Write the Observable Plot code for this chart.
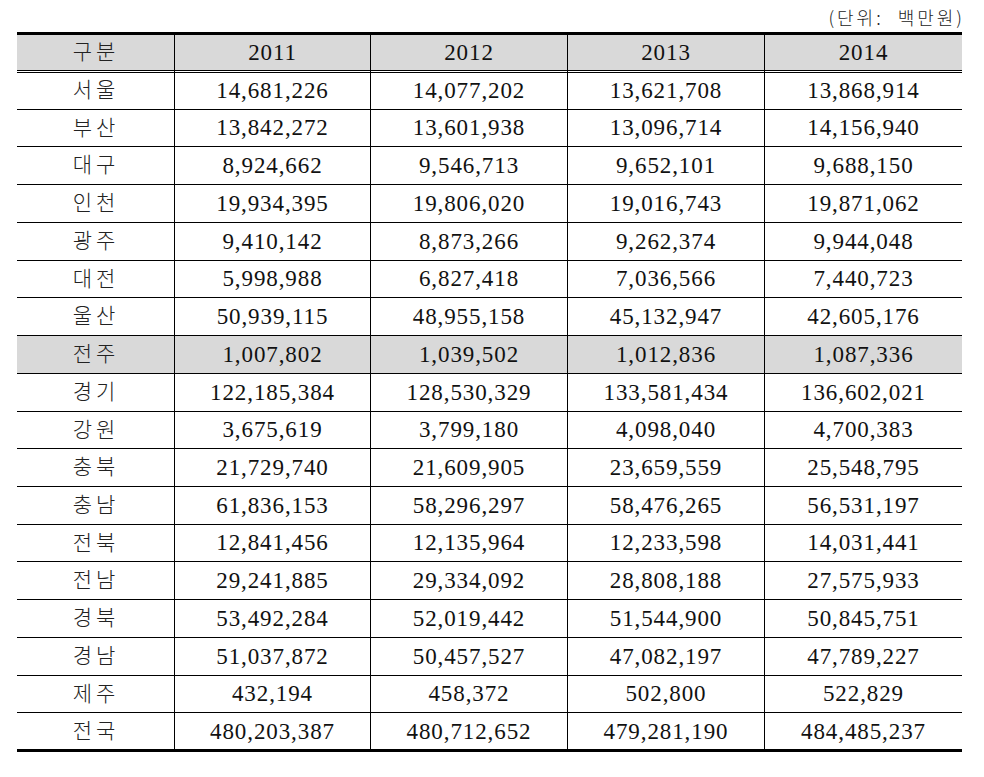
<!DOCTYPE html>
<html><head><meta charset="utf-8">
<script src="https://cdn.jsdelivr.net/npm/d3@7"></script>
<script src="https://cdn.jsdelivr.net/npm/@observablehq/plot@0.6"></script>
<style>
body{margin:0;background:#fff;}
#unit{height:28px;width:984px;box-sizing:border-box;padding-right:19px;text-align:right;font-family:"Noto Sans CJK KR";font-size:18px;font-weight:300;letter-spacing:3px;line-height:34px;color:#222;white-space:pre;overflow:visible;}
#chart svg{display:block;}
</style></head><body>
<div id="unit">(단위:  백만원)</div>
<div id="chart"></div>
<script>
const headerLabel = "구분";
const years = ["2011", "2012", "2013", "2014"];
const regions = ["서울","부산","대구","인천","광주","대전","울산","전주","경기","강원","충북","충남","전북","전남","경북","경남","제주","전국"];
const v2011 = [14681226,13842272,8924662,19934395,9410142,5998988,50939115,1007802,122185384,3675619,21729740,61836153,12841456,29241885,53492284,51037872,432194,480203387];
const v2012 = [14077202,13601938,9546713,19806020,8873266,6827418,48955158,1039502,128530329,3799180,21609905,58296297,12135964,29334092,52019442,50457527,458372,480712652];
const v2013 = [13621708,13096714,9652101,19016743,9262374,7036566,45132947,1012836,133581434,4098040,23659559,58476265,12233598,28808188,51544900,47082197,502800,479281190];
const v2014 = [13868914,14156940,9688150,19871062,9944048,7440723,42605176,1087336,136602021,4700383,25548795,56531197,14031441,27575933,50845751,47789227,522829,484485237];
const highlighted = "전주";

// layout (pixels within the SVG)
const colEdges = [17, 174, 370, 567, 764, 962];
const tableTop = 5, headerBottom = 43, tableBottom = 722;

const series = [v2011, v2012, v2013, v2014];
const fmt = d3.format(",");
const nRows = regions.length + 1;
const rowH = (tableBottom - headerBottom) / regions.length;
const rowTop = r => r === 0 ? tableTop : Math.round(headerBottom + (r - 1) * rowH);
const rowBot = r => r === 0 ? headerBottom : Math.round(headerBottom + r * rowH);
const rowMid = r => (rowTop(r) + rowBot(r)) / 2;
const colMid = c => (colEdges[c] + colEdges[c + 1]) / 2;

const headerCells = [headerLabel, ...years].map((t, i) => ({col: i, row: 0, text: t}));
const regionCells = regions.map((t, i) => ({col: 0, row: i + 1, text: t}));
const valueCells = series.flatMap((vals, j) => vals.map((v, i) => ({col: j + 1, row: i + 1, text: fmt(v)})));
const shadedRows = [0, regions.indexOf(highlighted) + 1];
const L = colEdges[0], R = colEdges[5];

const SERIF = "'Liberation Serif', 'DejaVu Serif', serif";
const KOR = "'Noto Sans CJK KR', sans-serif";

const chart = Plot.plot({
  width: 984,
  height: 749,
  margin: 0,
  style: {fontFamily: SERIF},
  x: {type: "linear", domain: [0, 984], range: [0, 984], axis: null},
  y: {type: "linear", domain: [0, 749], range: [0, 749], axis: null},
  marks: [
    Plot.rect(shadedRows, {x1: L, x2: R, y1: d => rowTop(d), y2: d => rowBot(d), fill: "#d9d9d9"}),
    Plot.ruleY(d3.range(2, nRows), {y: d => rowTop(d), x1: L, x2: R, stroke: "#000", strokeWidth: 1}),
    Plot.ruleX(colEdges.slice(1, 5), {y1: tableTop, y2: tableBottom, stroke: "#000", strokeWidth: 1}),
    Plot.ruleY([headerBottom - 1, headerBottom + 1], {x1: L, x2: R, stroke: "#000", strokeWidth: 1}),
    Plot.ruleY([tableTop, tableBottom], {x1: L, x2: R, stroke: "#000", strokeWidth: 3}),
    Plot.text(headerCells.filter(d => d.col > 0).concat(valueCells), {
      x: d => colMid(d.col), y: d => rowMid(d.row), text: "text",
      fontFamily: SERIF, fontSize: 23, fill: "#111"
    }),
    Plot.text(headerCells.filter(d => d.col === 0).concat(regionCells), {
      x: d => colMid(d.col), y: d => rowMid(d.row), text: "text",
      fontFamily: KOR, fontSize: 21, fontWeight: 300, fill: "#222"
    })
  ]
});
// enforce fonts directly on the text nodes
chart.querySelectorAll("text").forEach(t => {
  if (/^[\d,]+$/.test(t.textContent)) {
    t.style.fontFamily = SERIF; t.style.fontSize = "23px"; t.style.letterSpacing = "0.9px";
  } else {
    t.style.fontFamily = KOR; t.style.fontSize = "21px"; t.style.fontWeight = "300"; t.style.letterSpacing = "4px";
  }
});
document.getElementById("chart").appendChild(chart);
</script>
</body></html>
